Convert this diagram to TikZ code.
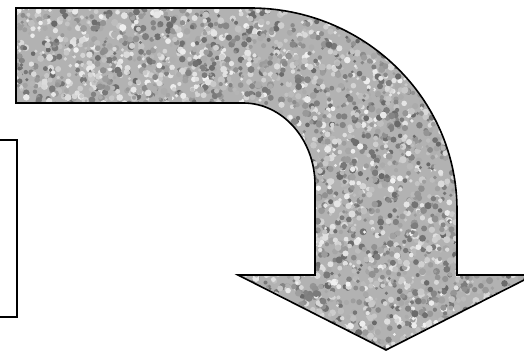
\documentclass[tikz,border=0pt]{standalone}
\usepackage{tikz}

\newcommand{\bendpath}{(16,344) -- (250,344)
  arc[start angle=90, end angle=0, x radius=207, y radius=202]
  -- (457,77) -- (534,77) -- (386,2) -- (238,77) -- (315,77) -- (315,167)
  arc[start angle=0, end angle=90, x radius=72, y radius=82]
  -- (16,249) -- cycle}

\begin{document}
\begin{tikzpicture}[x=1pt, y=1pt,
		outline/.style={draw=black, line width=1.6pt, line join=miter},
		granite/.style={fill=black!30}
	]
	\useasboundingbox (0,0) rectangle (524,352);
	\clip (0,0) rectangle (524,352);
	% left box, cut by the page edge
	\draw[outline] (-10,212) -- (17,212) -- (17,35) -- (-10,35);
	% stone texture of the bent arrow
	\begin{scope}
		\clip \bendpath;
		\fill[granite] (0,0) rectangle (534,352);
		\pgfmathsetseed{42}
		\foreach \i in {1,...,6400}{
			\pgfmathsetmacro{\px}{16+518*rnd}
			\pgfmathsetmacro{\py}{2+342*rnd}
			\pgfmathtruncatemacro{\pg}{6+54*rnd}
			\pgfmathsetmacro{\pr}{1.5+2.1*rnd}
			\fill[black!\pg] (\px,\py) circle[radius=\pr];
		}
	\end{scope}
	\draw[outline] \bendpath;
\end{tikzpicture}
\end{document}
